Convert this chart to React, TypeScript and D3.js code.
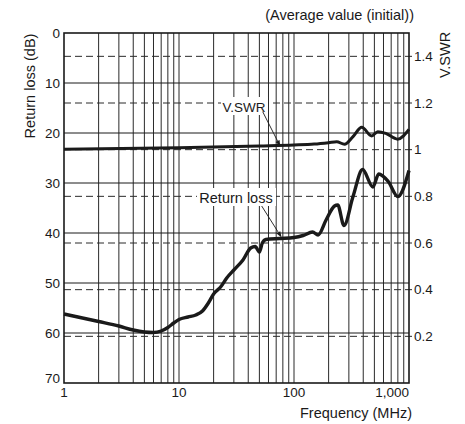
import React from 'react';
import * as d3 from 'd3';

// Return loss (dB) vs frequency (MHz)
const rlFreq = [1, 2, 3, 4, 5, 6, 7, 8, 9, 10, 12, 14, 16, 18, 20, 23, 26, 30, 36, 42, 46, 50, 53, 57, 75, 100, 120, 145, 162, 190, 225, 240, 272, 326, 395, 485, 545, 660, 800, 1000];
const rlValue = [56.2, 57.7, 58.6, 59.4, 59.8, 59.9, 59.6, 58.9, 58.0, 57.3, 56.8, 56.4, 55.6, 54.0, 52.2, 50.8, 49.0, 47.4, 45.4, 43.0, 42.7, 43.8, 42.0, 41.3, 41.1, 40.9, 40.5, 39.8, 40.4, 37.4, 34.6, 34.4, 38.5, 32.7, 27.3, 30.8, 28.2, 29.7, 32.7, 27.5];

// V.SWR vs frequency (MHz)
const vswrFreq = [1, 10, 50, 100, 150, 200, 235, 275, 326, 388, 474, 535, 628, 795, 1000];
const vswrValue = [1.002, 1.008, 1.016, 1.02, 1.024, 1.03, 1.034, 1.023, 1.056, 1.096, 1.059, 1.077, 1.07, 1.045, 1.087];

const xTicks = [1, 10, 100, 1000];
const xTickLabels = ['1', '10', '100', '1,000'];
const rlTicks = [0, 10, 20, 30, 40, 50, 60, 70];
const vswrTicks = [0.2, 0.4, 0.6, 0.8, 1, 1.2, 1.4];

export default function App() {
  const margin = { top: 33, right: 56, bottom: 41, left: 64 };
  const W = 465;
  const H = 424;
  const x0 = margin.left;
  const x1 = W - margin.right;
  const y0 = margin.top;
  const y1 = H - margin.bottom;

  const x = d3.scaleLog().domain([1, 1000]).range([x0, x1]);
  const yRL = d3.scaleLinear().domain([0, 70]).range([y0, y1]);
  const yV = d3.scaleLinear().domain([0, 1.5]).range([y1, y0]);

  // minor grid 2..9 in each decade
  const vLines: number[] = [];
  for (let d = 1; d < 1000; d *= 10) {
    for (let k = 1; k <= 9; k++) vLines.push(d * k);
  }

  const rlLine = d3.line<number>()
    .x((_, i) => x(rlFreq[i]))
    .y(d => yRL(d))
    .curve(d3.curveMonotoneX);
  const vLine = d3.line<number>()
    .x((_, i) => x(vswrFreq[i]))
    .y(d => yV(d))
    .curve(d3.curveMonotoneX);

  const font = 'Liberation Sans, Arial, Helvetica, sans-serif';
  const ink = '#1a1a1a';

  // annotation: label centre -> arrow tip on curve
  const vTip = [x(76), yV(1.018) + 1];
  const rlTip = [x(78), yRL(41.1) - 1];

  const arrow = (sx: number, sy: number, tx: number, ty: number) => {
    const a = Math.atan2(ty - sy, tx - sx);
    const L = 6, w = 2.2;
    const bx = tx - L * Math.cos(a), by = ty - L * Math.sin(a);
    const p1 = [bx + w * Math.sin(a), by - w * Math.cos(a)];
    const p2 = [bx - w * Math.sin(a), by + w * Math.cos(a)];
    return (
      <g>
        <line x1={sx} y1={sy} x2={bx} y2={by} stroke={ink} strokeWidth={0.9} />
        <path d={`M${tx},${ty}L${p1[0]},${p1[1]}L${p2[0]},${p2[1]}Z`} fill={ink} />
      </g>
    );
  };

  return (
    <svg width={W} height={H} style={{ position: 'absolute', left: 0, top: 0, background: '#fff' }} fontFamily={font}>
      <rect width={W} height={H} fill="#fff" />
      <text x={414} y={20} textAnchor="end" fontSize={14.5} fill={ink}>(Average value (initial))</text>

      {/* vertical grid */}
      {vLines.filter(v => v > 1).map(v => (
        <line key={'v' + v} x1={x(v)} x2={x(v)} y1={y0} y2={y1} stroke="#2a2a2a" strokeWidth={1} />
      ))}
      {/* return loss grid */}
      {rlTicks.slice(1, -1).map(t => (
        <line key={'h' + t} x1={x0} x2={x1} y1={yRL(t)} y2={yRL(t)} stroke="#1a1a1a" strokeWidth={1} />
      ))}
      {/* vswr dashed grid */}
      {vswrTicks.map(t => (
        <line key={'d' + t} x1={x0} x2={x1 + 3} y1={yV(t)} y2={yV(t)} stroke="#2a2a2a" strokeWidth={1} strokeDasharray="7,4" />
      ))}

      <rect x={x0} y={y0} width={x1 - x0} height={y1 - y0} fill="none" stroke={ink} strokeWidth={1.6} />

      {/* curves */}
      <path d={vLine(vswrValue) || ''} fill="none" stroke={ink} strokeWidth={3} strokeLinejoin="round" />
      <path d={rlLine(rlValue) || ''} fill="none" stroke={ink} strokeWidth={3.4} strokeLinejoin="round" />

      {/* annotations */}
      <rect x={221} y={97} width={47} height={18} fill="#fff" />
      <text x={244} y={111.5} textAnchor="middle" fontSize={13.5} fill={ink}>V.SWR</text>
      {arrow(262.7, 111.7, vTip[0], vTip[1])}

      <rect x={197} y={188} width={79} height={18} fill="#fff" />
      <text x={236} y={202.5} textAnchor="middle" fontSize={14.5} fill={ink}>Return loss</text>
      {arrow(261.7, 206, rlTip[0], rlTip[1])}

      {/* left axis labels */}
      {rlTicks.map(t => (
        <text key={'l' + t} x={60} y={t === 70 ? y1 : yRL(t) + 4.8} textAnchor="end" fontSize={13.5} fill={ink}>{t}</text>
      ))}
      {/* right axis labels */}
      {vswrTicks.map(t => (
        <text key={'r' + t} x={414} y={yV(t) + 4.8} fontSize={13.5} fill={ink}>{t}</text>
      ))}
      {/* bottom axis labels */}
      {xTicks.map((t, i) => (
        <text key={'b' + t} x={x(t)} y={397} textAnchor={i === 3 ? 'end' : 'middle'} fontSize={13.5} fill={ink}>{xTickLabels[i]}</text>
      ))}

      <text x={412} y={418} textAnchor="end" fontSize={14.5} fill={ink}>Frequency (MHz)</text>
      <text transform={`translate(35,86) rotate(-90)`} textAnchor="middle" fontSize={14.5} fill={ink}>Return loss (dB)</text>
      <text transform={`translate(450,55) rotate(-90)`} textAnchor="middle" fontSize={14.5} fill={ink}>V.SWR</text>
    </svg>
  );
}
